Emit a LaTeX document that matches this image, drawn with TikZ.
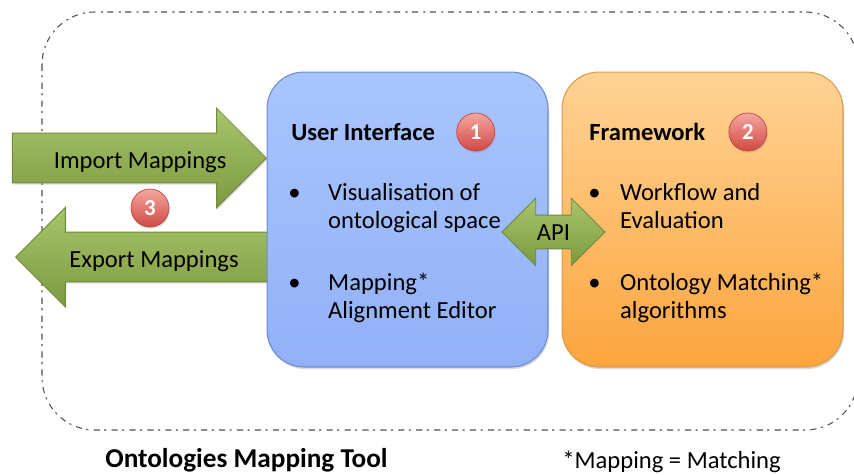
\documentclass[tikz,border=0pt]{standalone}
\usepackage{fontspec}
\setmainfont{Carlito}
\usepackage{tikz}
\usetikzlibrary{positioning,shapes.arrows,shadows}

\definecolor{uitop}{HTML}{A9C5FD}
\definecolor{uibot}{HTML}{92B0F7}
\definecolor{uiline}{HTML}{6C8BD2}
\definecolor{fwtop}{HTML}{FFD395}
\definecolor{fwbot}{HTML}{FCA53E}
\definecolor{fwline}{HTML}{DE9A4C}
\definecolor{grtop}{HTML}{A8C46C}
\definecolor{grbot}{HTML}{7D9A40}
\definecolor{grline}{HTML}{6F893D}
\definecolor{rdtop}{HTML}{F5A7A0}
\definecolor{rdbot}{HTML}{D04843}
\definecolor{rdline}{HTML}{C04642}
\definecolor{frameline}{HTML}{505050}

\newcommand{\bitem}[3]{\begin{tabular}{@{}p{#1}@{}l@{}}\textbullet&#2\\&#3\end{tabular}}

\begin{document}
\begin{tikzpicture}[x=0.02cm,y=-0.02cm, every node/.style={align=center,font=\fontsize{14}{16}\selectfont},
  panel/.style={draw,rounded corners=21pt,minimum width=5.62cm,minimum height=5.9cm,line width=0.6pt,drop shadow={opacity=0.3,shadow xshift=0.6pt,shadow yshift=-1.2pt}},
  title/.style={anchor=west,inner sep=0pt,font=\fontsize{14}{16}\selectfont\bfseries},
  badge/.style={circle,minimum size=0.76cm,inner sep=0pt,top color=rdtop,bottom color=rdbot,draw=rdline,line width=0.4pt,text=white,font=\fontsize{13}{15}\selectfont\bfseries,drop shadow={opacity=0.25,shadow xshift=0.5pt,shadow yshift=-1pt}},
  flow/.style={single arrow,single arrow head extend=14.2pt,single arrow head indent=0pt,inner ysep=7.4pt,text height=12.5pt,text depth=0.5pt,top color=grtop,bottom color=grbot,draw=grline,line width=0.5pt,drop shadow={opacity=0.25,shadow xshift=0.5pt,shadow yshift=-1pt}},
  api/.style={double arrow,double arrow head extend=9.6pt,double arrow head indent=0pt,minimum height=2.06cm,inner ysep=2.85pt,inner xsep=2pt,text height=11.5pt,text depth=1.5pt,top color=grtop,bottom color=grbot,draw=grline,line width=0.5pt},
  item/.style={anchor=west,inner sep=0pt,align=left}]
\clip (0,0) rectangle (854,474);
\draw[frameline,line width=0.6pt,dash pattern=on 3.5pt off 2.5pt on 1.2pt off 3pt,rounded corners=30pt] (42,12) rectangle (858,430);

\node[flow,minimum height=5.08cm,anchor=tip] (imp) at (267,158) {\hspace*{15pt}Import Mappings};
\node[flow,minimum height=5.04cm,shape border rotate=180,anchor=tip] (exp) at (15,257) {Export Mappings};
\node[badge] (b3) at (150,208) {3};

\node[panel,top color=uitop,bottom color=uibot,draw=uiline] (ui) at (407.5,219.5) {};
\node[panel,top color=fwtop,bottom color=fwbot,draw=fwline] (fw) at (702.5,219.5) {};

\node[title] (uit) at (291,132) {User Interface};
\node[badge,right=0.42cm of uit] (b1) {1};
\node[title] (fwt) at (589,132) {Framework};
\node[badge,right=0.46cm of fwt] (b2) {2};

\node[item] (ui1) at (288,209) {\bitem{22.7pt}{Visualisation of}{ontological space}};
\node[item] (ui2) at (288,299) {\bitem{22.7pt}{Mapping*}{Alignment Editor}};
\node[item] (fw1) at (588,209) {\bitem{18.1pt}{Workflow and}{Evaluation}};
\node[item] (fw2) at (588,299) {\bitem{18.1pt}{Ontology Matching*}{algorithms}};

\node[api] (link) at (553.5,232) {API};

\node[anchor=west,inner sep=0pt,font=\fontsize{15.5}{18}\selectfont\bfseries] (tool) at (105,460) {Ontologies Mapping Tool};
\node[anchor=west,inner sep=0pt] (note) at (562,462) {*Mapping = Matching};
\end{tikzpicture}
\end{document}
